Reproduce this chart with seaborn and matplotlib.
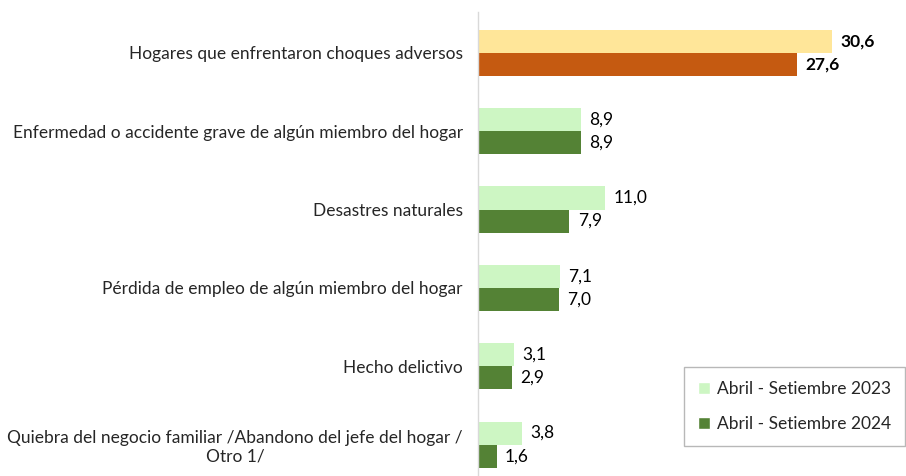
import pandas as pd
import matplotlib
matplotlib.use('Agg')
import matplotlib.pyplot as plt
import seaborn as sns
from matplotlib.patches import Patch

categorias = [
    'Hogares que enfrentaron choques adversos',
    'Enfermedad o accidente grave de algún miembro del hogar',
    'Desastres naturales',
    'Pérdida de empleo de algún miembro del hogar',
    'Hecho delictivo',
    'Quiebra del negocio familiar /Abandono del jefe del hogar /\nOtro 1/',
]
periodos = ['Abril - Setiembre 2023', 'Abril - Setiembre 2024']
valores_2023 = [30.6, 8.9, 11.0, 7.1, 3.1, 3.8]
valores_2024 = [27.6, 8.9, 7.9, 7.0, 2.9, 1.6]

verde_claro = '#CDF6C3'
verde_oscuro = '#548235'
naranja_claro = '#FFE699'
naranja_oscuro = '#C55A11'

df = pd.DataFrame({
    'Categoria': categorias * 2,
    'Periodo': [periodos[0]] * len(categorias) + [periodos[1]] * len(categorias),
    'Valor': valores_2023 + valores_2024,
})

sns.set_style('white')
plt.rcParams['font.family'] = ['Lato', 'DejaVu Sans']
fs = 12.5

fig = plt.figure(figsize=(9.06, 4.76), dpi=100)
ax = fig.add_axes([478 / 906, 0.0, 1 - 478 / 906, 1 - 12 / 476])

sns.barplot(data=df, y='Categoria', x='Valor', hue='Periodo', orient='h',
            palette=[verde_claro, verde_oscuro], width=0.59, saturation=1,
            linewidth=0, legend=False, ax=ax)

# primer grupo en naranja
n = len(categorias)
ax.patches[0].set_facecolor(naranja_claro)
ax.patches[n].set_facecolor(naranja_oscuro)

for cont in ax.containers:
    labels = [f'{v:.1f}'.replace('.', ',') for v in cont.datavalues]
    txts = ax.bar_label(cont, labels=labels, padding=6, fontsize=fs, color='black')
    txts[0].set_fontweight('bold')

ax.set_xlim(0, 37)
ax.set_ylim(5.4, -0.52)
ax.set_xlabel('')
ax.set_ylabel('')
ax.set_xticks([])
ax.tick_params(axis='y', length=0, pad=11, labelsize=fs)
for t in ax.get_yticklabels():
    t.set_multialignment('center')

for s in ['top', 'right', 'bottom']:
    ax.spines[s].set_visible(False)
ax.spines['left'].set_color('#D9D9D9')
ax.spines['left'].set_linewidth(1)

handles = [Patch(facecolor=verde_claro), Patch(facecolor=verde_oscuro)]
leg = fig.legend(handles, periodos, loc='lower right',
                 bbox_to_anchor=(905 / 906, (476 - 446) / 476),
                 frameon=True, fancybox=False, fontsize=fs,
                 handlelength=0.7, handleheight=0.7, handletextpad=0.4,
                 labelspacing=1.1, borderpad=0.8, borderaxespad=0)
leg.get_frame().set_edgecolor('#A6A6A6')
leg.get_frame().set_linewidth(1)

fig.savefig('out.png', dpi=100)
